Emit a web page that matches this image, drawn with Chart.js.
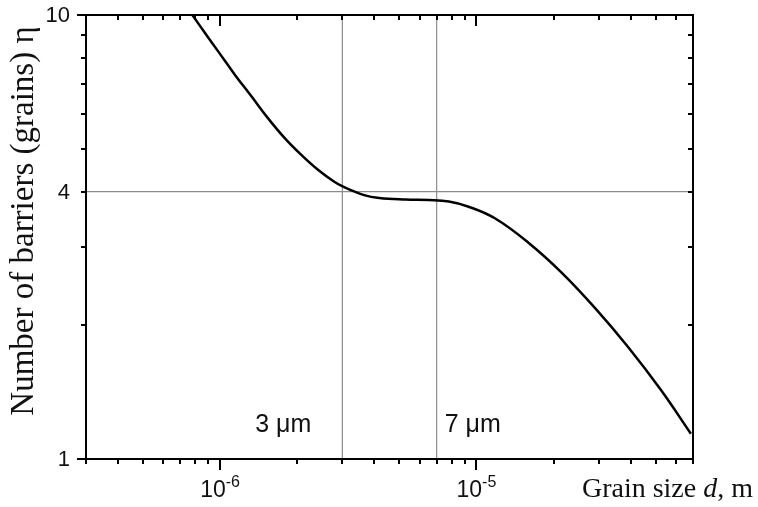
<!DOCTYPE html>
<html>
<head>
<meta charset="utf-8">
<script src="https://cdn.jsdelivr.net/npm/chart.js@4.4.0/dist/chart.umd.min.js"></script>
<style>
  html, body { margin: 0; padding: 0; background: #fff; }
  canvas { display: block; }
</style>
</head>
<body>
<canvas id="grainChart" width="758" height="507"></canvas>
<script>
// curve: grain size d (m) vs number of barriers eta
const grainSize = [7.8e-7, 8.75e-7, 9.85e-7, 1.144e-6, 1.328e-6, 1.54e-6, 1.788e-6, 2.075e-6, 2.41e-6, 2.79e-6,
  3.01e-6, 3.65e-6, 4.18e-6, 5.3e-6, 6.53e-6, 7.81e-6, 9.33e-6, 1.185e-5, 1.596e-5, 2.15e-5,
  2.9e-5, 3.9e-5, 5.25e-5, 6.87e-5];
const barriers = [10, 9.1, 8.27, 7.33, 6.55, 5.85, 5.28, 4.84, 4.48, 4.21,
  4.11, 3.93, 3.87, 3.84, 3.83, 3.8, 3.7, 3.48, 3.07, 2.63,
  2.19, 1.79, 1.43, 1.14];

const markerSizes = [3e-6, 7e-6];
const markerLabels = ['3 \u03bcm', '7 \u03bcm'];
const levelValue = 4;

const xRange = [3e-7, 7e-5];
const yRange = [1, 10];
const xLabelTicks = [1e-6, 1e-5];
const xLabelExponents = ['-6', '-5'];
const yLabelTicks = [1, 4, 10];
const yLabelTexts = ['1', '4', '10'];

const xTitle = ['Grain size ', 'd', ', m'];
const yTitle = 'Number of barriers (grains) \u03b7';

const sans = '"Liberation Sans", Arial, sans-serif';
const serif = '"Liberation Serif", "Times New Roman", serif';

const refLines = markerSizes.map(m => ({
  data: [{ x: m, y: yRange[0] }, { x: m, y: yRange[1] }],
  borderColor: '#8c8c8c',
  borderWidth: 1.2,
  pointRadius: 0,
  showLine: true,
  order: 2
}));
refLines.push({
  data: [{ x: xRange[0], y: levelValue }, { x: xRange[1], y: levelValue }],
  borderColor: '#8c8c8c',
  borderWidth: 1.2,
  pointRadius: 0,
  showLine: true,
  order: 2
});

function logTicks(min, max) {
  const out = [];
  for (let e = Math.floor(Math.log10(min)); e <= Math.ceil(Math.log10(max)); e++) {
    for (let m = 1; m <= 9; m++) {
      const v = m * Math.pow(10, e);
      if (v >= min * 0.999 && v <= max * 1.001) out.push({ v, major: m === 1 });
    }
  }
  return out;
}

const framePlugin = {
  id: 'frameAndTicks',
  afterDatasetsDraw(chart) {
    const c = chart.ctx;
    const { left, right, top, bottom } = chart.chartArea;
    const xs = chart.scales.x;
    const ys = chart.scales.y;
    c.save();
    c.strokeStyle = '#000';
    c.fillStyle = '#111';
    c.lineWidth = 2;
    c.strokeRect(left, top, right - left, bottom - top);

    // x ticks: outward at bottom, inward at top
    c.beginPath();
    logTicks(xRange[0], xRange[1]).forEach(t => {
      const px = Math.round(xs.getPixelForValue(t.v));
      const len = t.major ? 11 : 5;
      c.moveTo(px, bottom); c.lineTo(px, bottom + len);
      c.moveTo(px, top); c.lineTo(px, top + len);
    });
    // y ticks: outward at left, inward at right
    logTicks(yRange[0], yRange[1]).forEach(t => {
      const py = Math.round(ys.getPixelForValue(t.v));
      const len = t.major ? 9 : 5;
      c.moveTo(left, py); c.lineTo(left - len, py);
      c.moveTo(right, py); c.lineTo(right - len, py);
    });
    c.stroke();

    // y tick labels
    c.font = '22px ' + sans;
    c.textAlign = 'right';
    c.textBaseline = 'middle';
    yLabelTicks.forEach((v, i) => {
      c.fillText(yLabelTexts[i], left - 16, ys.getPixelForValue(v) + 1);
    });

    // x tick labels as 10 with superscript exponent
    c.textAlign = 'left';
    c.textBaseline = 'alphabetic';
    xLabelTicks.forEach((v, i) => {
      const px = xs.getPixelForValue(v);
      c.font = '23px ' + sans;
      const wBase = c.measureText('10').width;
      c.font = '16px ' + sans;
      const wExp = c.measureText(xLabelExponents[i]).width;
      const x0 = px - (wBase + wExp) / 2;
      c.font = '23px ' + sans;
      c.fillText('10', x0, bottom + 38);
      c.font = '16px ' + sans;
      c.fillText(xLabelExponents[i], x0 + wBase, bottom + 28);
    });

    // marker labels
    c.font = '25px ' + sans;
    const p0 = xs.getPixelForValue(markerSizes[0]);
    const p1 = xs.getPixelForValue(markerSizes[1]);
    c.textAlign = 'right';
    c.fillText(markerLabels[0], p0 - 31, bottom - 27);
    c.textAlign = 'left';
    c.fillText(markerLabels[1], p1 + 8, bottom - 27);

    // x title, right aligned to the page edge
    const fonts = ['28px ' + serif, 'italic 28px ' + serif, '28px ' + serif];
    let total = 0;
    xTitle.forEach((s, i) => { c.font = fonts[i]; total += c.measureText(s).width; });
    let tx = 753 - total;
    xTitle.forEach((s, i) => {
      c.font = fonts[i];
      c.fillText(s, tx, bottom + 38);
      tx += c.measureText(s).width;
    });

    // y title
    c.save();
    c.translate(33, (top + bottom) / 2 - 16);
    c.rotate(-Math.PI / 2);
    c.font = '33px ' + serif;
    c.textAlign = 'center';
    c.fillText(yTitle, 0, 0);
    c.restore();

    c.restore();
  }
};

const chart = new Chart(document.getElementById('grainChart').getContext('2d'), {
  type: 'scatter',
  data: {
    datasets: [{
      label: 'eta',
      data: grainSize.map((d, i) => ({ x: d, y: barriers[i] })),
      borderColor: '#000',
      borderWidth: 2.5,
      pointRadius: 0,
      showLine: true,
      tension: 0.4,
      order: 1
    }, ...refLines]
  },
  options: {
    responsive: false,
    animation: false,
    layout: { padding: { left: 86, top: 15, right: 65, bottom: 48 } },
    scales: {
      x: {
        type: 'logarithmic', min: xRange[0], max: xRange[1],
        grid: { display: false, drawTicks: false },
        border: { display: false },
        ticks: { display: false }
      },
      y: {
        type: 'logarithmic', min: yRange[0], max: yRange[1],
        grid: { display: false, drawTicks: false },
        border: { display: false },
        ticks: { display: false }
      }
    },
    plugins: {
      legend: { display: false },
      tooltip: { enabled: false }
    }
  },
  plugins: [framePlugin]
});
</script>
</body>
</html>
